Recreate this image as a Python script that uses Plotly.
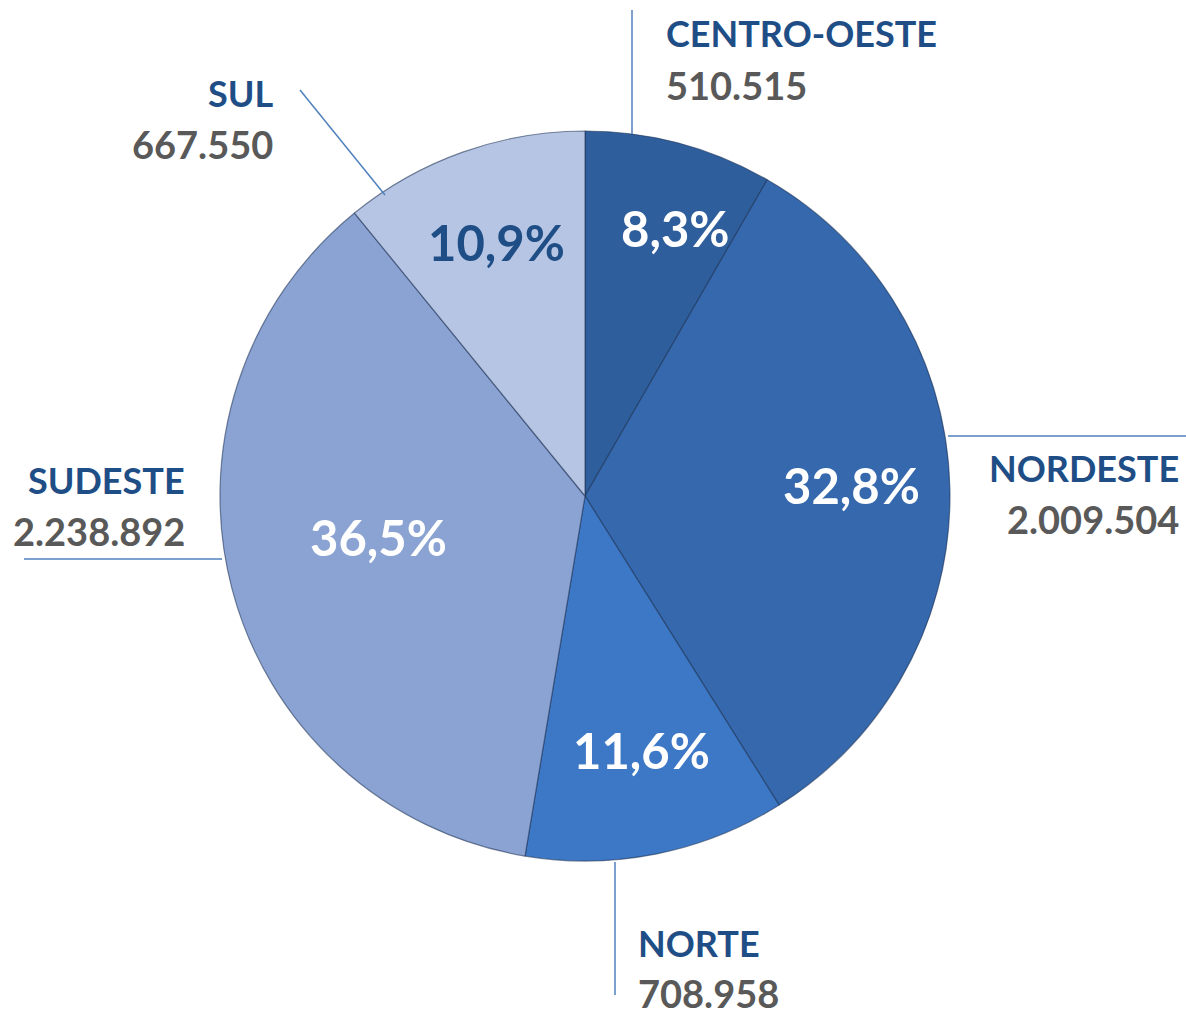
import math
import plotly.graph_objects as go

regions = ["CENTRO-OESTE", "NORDESTE", "NORTE", "SUDESTE", "SUL"]
values = [510515, 2009504, 708958, 2238892, 667550]
value_labels = ["510.515", "2.009.504", "708.958", "2.238.892", "667.550"]
pct_labels = ["8,3%", "32,8%", "11,6%", "36,5%", "10,9%"]

colors = ["#2F5E9C", "#3568AD", "#3C78C5", "#8AA3D3", "#B6C5E3"]
pct_colors = ["white", "white", "white", "white", "#1F4E86"]
pct_radius = [0.76, 0.73, 0.73, 0.58, 0.72]
pct_angle_shift = [4, 0, -1, 2, 0]  # degrees, label placement tweak

W, H = 1186, 1015
CX, CY, R = 585, 496, 365

def px(x):
    return x / W

def py(y):
    return 1 - y / H

fig = go.Figure()
fig.add_trace(go.Pie(
    labels=regions,
    values=values,
    sort=False,
    direction="clockwise",
    rotation=0,
    marker=dict(colors=colors, line=dict(color="rgba(25,45,80,0.55)", width=1.2)),
    textinfo="none",
    hoverinfo="label+value+percent",
    showlegend=False,
    domain=dict(x=[px(CX - R), px(CX + R)], y=[py(CY + R), py(CY - R)]),
))

FONT = "Lato"
annotations = []
total = sum(values)
cum = 0
for i, v in enumerate(values):
    mid = (cum + v / 2) / total * 2 * math.pi + math.radians(pct_angle_shift[i])
    cum += v
    r = pct_radius[i] * R
    x = CX + r * math.sin(mid)
    y = CY - r * math.cos(mid) - 6
    annotations.append(dict(
        x=px(x), y=py(y), xref="paper", yref="paper", showarrow=False,
        text=pct_labels[i], xanchor="center", yanchor="middle",
        font=dict(family=FONT, size=49, color=pct_colors[i], weight="bold"),
    ))

# outer labels: (x, label_y, value_y, anchor)
label_pos = [
    (664, 33, 85, "left"),
    (1181, 468, 519, "right"),
    (636, 943, 993, "left"),
    (187, 480, 531, "right"),
    (275, 93, 144, "right"),
]
for i, (x, ly, vy, anc) in enumerate(label_pos):
    annotations.append(dict(
        x=px(x), y=py(ly), xref="paper", yref="paper", showarrow=False,
        text=regions[i], xanchor=anc, yanchor="middle",
        font=dict(family=FONT, size=36, color="#1F4E86", weight="bold"),
    ))
    annotations.append(dict(
        x=px(x), y=py(vy), xref="paper", yref="paper", showarrow=False,
        text=value_labels[i], xanchor=anc, yanchor="middle",
        font=dict(family=FONT, size=38, color="#595959", weight="bold"),
    ))

leaders = [
    ((632, 10), (632, 134)),
    ((948, 436), (1186, 436)),
    ((615, 862), (615, 995)),
    ((24, 559), (222, 559)),
    ((300, 90), (385, 195)),
]
shapes = []
for (x0, y0), (x1, y1) in leaders:
    shapes.append(dict(type="line", xref="paper", yref="paper",
                       x0=px(x0), y0=py(y0), x1=px(x1), y1=py(y1),
                       line=dict(color="#4F81BD", width=1.5)))

fig.update_layout(
    width=W, height=H,
    margin=dict(l=0, r=0, t=0, b=0),
    paper_bgcolor="white",
    plot_bgcolor="white",
    annotations=annotations,
    shapes=shapes,
)

fig.write_html("out.html",
               config={"displayModeBar": False},
               post_script="document.body.style.margin='0px';document.body.style.overflow='hidden';")
